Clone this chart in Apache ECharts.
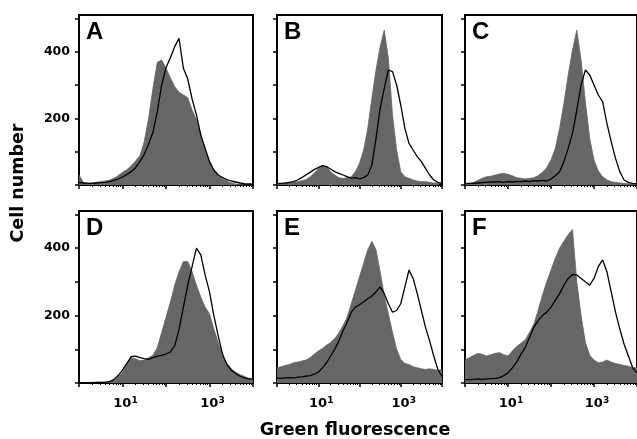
<!DOCTYPE html>
<html>
<head>
<meta charset="utf-8">
<script src="https://cdn.jsdelivr.net/npm/echarts@6/dist/echarts.min.js"></script>
<style>
html,body{margin:0;padding:0;background:#fff;}
#chart{width:637px;height:439px;}
</style>
</head>
<body>
<div id="chart"></div>
<script>
// Channel (bin) positions on the log fluorescence axis
const channels = [1, 1.259, 1.585, 1.995, 2.512, 3.162, 3.981, 5.012, 6.31, 7.943,
  10, 12.59, 15.85, 19.95, 25.12, 31.62, 39.81, 50.12, 63.1, 79.43,
  100, 125.9, 158.5, 199.5, 251.2, 316.2, 398.1, 501.2, 631, 794.3,
  1000, 1259, 1585, 1995, 2512, 3162, 3981, 5012, 6310, 7943, 10000];

const panelLetters = ['A', 'B', 'C', 'D', 'E', 'F'];

// Filled (grey) histograms
const grayA = [30, 8, 5, 6, 8, 10, 12, 15, 20, 28, 38, 46, 58, 72, 88, 130, 200, 290, 368, 375, 350, 322, 295, 278, 270, 262, 225, 195, 150, 110, 70, 45, 28, 18, 12, 6, 3, 1, 0, 0, 0];
const grayB = [5, 4, 5, 6, 8, 10, 13, 16, 24, 35, 48, 58, 55, 40, 30, 22, 20, 22, 25, 40, 65, 105, 170, 260, 345, 415, 465, 380, 210, 105, 40, 25, 20, 15, 12, 10, 10, 8, 6, 5, 5];
const grayC = [3, 5, 8, 14, 20, 25, 26, 30, 33, 35, 32, 28, 22, 20, 18, 20, 22, 28, 38, 52, 75, 110, 170, 245, 330, 405, 465, 375, 250, 140, 75, 42, 25, 15, 10, 8, 6, 5, 4, 3, 3];
const grayD = [2, 1, 1, 2, 2, 2, 3, 4, 8, 18, 32, 55, 75, 72, 66, 68, 75, 82, 105, 150, 195, 240, 290, 330, 360, 360, 330, 290, 255, 225, 205, 160, 120, 80, 58, 42, 32, 25, 20, 14, 10];
const grayE = [45, 48, 52, 55, 60, 62, 65, 68, 75, 85, 95, 102, 112, 120, 132, 148, 170, 195, 235, 275, 315, 355, 395, 420, 395, 330, 260, 205, 150, 100, 70, 58, 55, 48, 45, 42, 40, 42, 40, 38, 40];
const grayF = [68, 75, 82, 88, 85, 80, 84, 88, 90, 84, 80, 95, 108, 118, 128, 150, 175, 215, 260, 300, 335, 370, 400, 420, 440, 455, 300, 200, 120, 82, 68, 60, 62, 68, 62, 58, 55, 52, 50, 46, 45];

// Open (black line) histograms
const lineA = [8, 6, 5, 5, 6, 7, 8, 10, 14, 18, 24, 32, 40, 52, 70, 92, 122, 158, 220, 300, 352, 382, 415, 440, 350, 318, 258, 210, 150, 110, 70, 45, 30, 22, 16, 12, 9, 6, 4, 3, 3];
const lineB = [4, 5, 6, 8, 10, 15, 22, 30, 38, 46, 52, 58, 55, 48, 40, 35, 30, 25, 20, 22, 18, 22, 30, 60, 140, 230, 290, 345, 340, 300, 240, 170, 125, 105, 85, 70, 50, 30, 15, 8, 5];
const lineC = [4, 5, 5, 6, 7, 8, 9, 9, 10, 8, 10, 9, 11, 10, 12, 10, 13, 12, 14, 12, 18, 28, 40, 70, 110, 155, 225, 300, 345, 330, 300, 270, 250, 185, 130, 80, 40, 15, 8, 5, 4];
const lineD = [1, 1, 1, 1, 2, 2, 2, 4, 10, 22, 38, 58, 78, 80, 75, 72, 70, 75, 80, 82, 86, 92, 110, 160, 225, 290, 345, 400, 380, 320, 270, 200, 140, 85, 55, 38, 28, 20, 15, 12, 12];
const lineE = [15, 14, 15, 16, 15, 17, 18, 20, 22, 26, 32, 45, 60, 80, 100, 125, 155, 180, 210, 225, 232, 240, 250, 258, 270, 285, 265, 235, 210, 215, 235, 285, 335, 310, 265, 215, 165, 125, 80, 40, 20];
const lineF = [10, 10, 11, 12, 11, 12, 13, 14, 16, 22, 30, 45, 62, 85, 105, 135, 165, 185, 200, 210, 225, 245, 265, 290, 310, 322, 320, 310, 300, 290, 310, 345, 365, 330, 270, 210, 160, 115, 80, 45, 30];

const grayData = [grayA, grayB, grayC, grayD, grayE, grayF];
const lineData = [lineA, lineB, lineC, lineD, lineE, lineF];

// Tick values
const yTicks = [0, 100, 200, 300, 400, 500];
const yTickLabels = [200, 400];
const xMajorTicks = [1, 10, 100, 1000, 10000];
const xMinorTicks = [2, 3, 4, 5, 6, 7, 8, 9, 20, 30, 40, 50, 60, 70, 80, 90,
  200, 300, 400, 500, 600, 700, 800, 900, 2000, 3000, 4000, 5000, 6000, 7000, 8000, 9000];
const xTickLabels = [10, 1000];
const yMax = 510;

// Layout (pixels)
const colLeft = [79, 277, 465];
const colWidth = [174, 165, 174];
const rowTop = [15, 211];
const rowHeight = [170, 172];

const grids = [], xAxes = [], yAxes = [], series = [], titles = [];
const boldFont = 'DejaVu Sans';

for (let i = 0; i < 6; i++) {
  const r = Math.floor(i / 3), c = i % 3;
  grids.push({
    left: colLeft[c], top: rowTop[r], width: colWidth[c], height: rowHeight[r],
    show: true, borderColor: '#000', borderWidth: 2, backgroundColor: 'transparent'
  });
  // minor ticks + axis line
  xAxes.push({
    type: 'log', logBase: 10, gridIndex: i, min: 1, max: 10000, position: 'bottom',
    axisLine: { show: true, onZero: false, lineStyle: { color: '#000', width: 2 } },
    axisTick: { show: true, customValues: xMinorTicks, length: 2, lineStyle: { color: '#000', width: 1 } },
    axisLabel: { show: false },
    splitLine: { show: false }, minorTick: { show: false }
  });
  // major ticks + labels
  xAxes.push({
    type: 'log', logBase: 10, gridIndex: i, min: 1, max: 10000, position: 'bottom',
    axisLine: { show: false },
    axisTick: { show: true, customValues: xMajorTicks, length: 4, lineStyle: { color: '#000', width: 1.5 } },
    axisLabel: {
      show: r === 1, customValues: xTickLabels, margin: 13,
      color: '#000', fontFamily: boldFont, fontWeight: 'bold', fontSize: 13,
      formatter: function (v) {
        const e = Math.round(Math.log10(v));
        return '{pad|}{b|10}{sup|' + e + '}';
      },
      rich: {
        pad: { width: 6 },
        b: { fontFamily: boldFont, fontWeight: 'bold', fontSize: 13, color: '#000', lineHeight: 16 },
        sup: { fontFamily: boldFont, fontWeight: 'bold', fontSize: 9, color: '#000', verticalAlign: 'top', padding: [0, 0, 9, 0], lineHeight: 10 }
      }
    },
    splitLine: { show: false }
  });
  yAxes.push({
    type: 'value', gridIndex: i, min: 0, max: yMax,
    axisLine: { show: true, onZero: false, lineStyle: { color: '#000', width: 2 } },
    axisTick: { show: true, customValues: yTicks, length: 4, lineStyle: { color: '#000', width: 1.5 } },
    axisLabel: {
      show: c === 0, customValues: yTickLabels, margin: 9,
      color: '#000', fontFamily: boldFont, fontWeight: 'bold', fontSize: 12.5
    },
    splitLine: { show: false }
  });
  series.push({
    type: 'line', xAxisIndex: 2 * i, yAxisIndex: i,
    data: channels.map((ch, k) => [ch, grayData[i][k]]),
    symbol: 'none', silent: true, z: 2,
    lineStyle: { color: '#666', width: 0.8 },
    areaStyle: { color: '#666', opacity: 1 }
  });
  series.push({
    type: 'line', xAxisIndex: 2 * i, yAxisIndex: i,
    data: channels.map((ch, k) => [ch, lineData[i][k]]),
    symbol: 'none', silent: true, z: 3,
    lineStyle: { color: '#000', width: 1.3 }
  });
  titles.push({
    text: panelLetters[i], left: colLeft[c] + 7, top: rowTop[r] + 5,
    padding: 0,
    textStyle: { fontFamily: '"Liberation Sans Narrow", sans-serif', fontWeight: 'bold', fontSize: 24, color: '#000' }
  });
}

const chart = echarts.init(document.getElementById('chart'), null, { renderer: 'canvas' });
chart.setOption({
  animation: false,
  backgroundColor: '#fff',
  title: titles,
  grid: grids,
  xAxis: xAxes,
  yAxis: yAxes,
  series: series,
  graphic: [
    {
      type: 'text', x: 18, y: 183, rotation: Math.PI / 2,
      style: { text: 'Cell number', fontFamily: boldFont, fontWeight: 'bold', fontSize: 17.5, fill: '#000', align: 'center', verticalAlign: 'middle' }
    },
    {
      type: 'text', x: 355, y: 430,
      style: { text: 'Green fluorescence', fontFamily: boldFont, fontWeight: 'bold', fontSize: 17.5, fill: '#000', align: 'center', verticalAlign: 'middle' }
    }
  ]
});
</script>
</body>
</html>
